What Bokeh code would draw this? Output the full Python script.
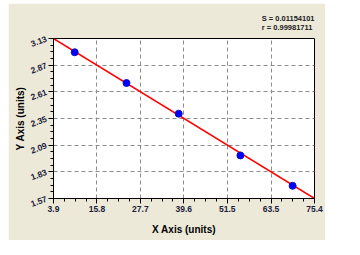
from bokeh.plotting import figure
from bokeh.models import FixedTicker, PrintfTickFormatter, Spacer, Range1d
from bokeh.layouts import column, row
from bokeh.embed import file_html
from bokeh.resources import INLINE

# data
pts_x = [9.7, 23.9, 38.2, 55.1, 69.4]
pts_y = [2.996, 2.696, 2.397, 1.990, 1.694]
fit_x = [3.9, 75.4]
fit_y = [3.13, 1.57]
x_ticks = [3.9, 15.8, 27.7, 39.6, 51.5, 63.5, 75.4]
y_ticks = [1.57, 1.83, 2.09, 2.35, 2.61, 2.87, 3.13]
stat_s = "S = 0.01154101"
stat_r = "r = 0.99981711"

def minors(ticks, n=4):
    out = []
    for a, b in zip(ticks[:-1], ticks[1:]):
        for k in range(1, n):
            out.append(a + (b - a) * k / n)
    return out

BG = "#ECE9D8"
FONT = "Liberation Sans"
TXT = "#1c1c3c"

p = figure(width=317, height=237, output_backend="svg", toolbar_location=None,
           x_range=Range1d(x_ticks[0], x_ticks[-1]), y_range=Range1d(y_ticks[0], y_ticks[-1]),
           min_border_left=45, min_border_right=11, min_border_top=35, min_border_bottom=42)
p.border_fill_color = BG
p.background_fill_color = "white"
p.outline_line_color = "black"
p.outline_line_width = 1

p.xaxis.ticker = FixedTicker(ticks=x_ticks, minor_ticks=minors(x_ticks))
p.yaxis.ticker = FixedTicker(ticks=y_ticks, minor_ticks=minors(y_ticks))
p.xaxis.formatter = PrintfTickFormatter(format="%.1f")
p.yaxis.formatter = PrintfTickFormatter(format="%.2f")
for ax in (p.xaxis, p.yaxis):
    ax.major_tick_in = 0
    ax.major_tick_out = 5
    ax.minor_tick_in = 0
    ax.minor_tick_out = 3
    ax.axis_line_color = "black"
    ax.major_tick_line_color = "black"
    ax.minor_tick_line_color = "black"
    ax.major_label_text_font = FONT
    ax.major_label_text_font_style = "bold"
    ax.major_label_text_font_size = "8.5px"
    ax.major_label_text_color = TXT
    ax.axis_label_text_font = FONT
    ax.axis_label_text_font_style = "bold"
    ax.axis_label_text_font_size = "10px"
    ax.axis_label_text_color = "black"
    ax.major_label_standoff = 2
p.yaxis.major_label_orientation = 0.35
p.xaxis.axis_label = "X Axis (units)"
p.yaxis.axis_label = "Y Axis (units)"
p.xaxis.axis_label_standoff = 9
p.yaxis.axis_label_standoff = 0

p.xgrid.ticker = FixedTicker(ticks=x_ticks)
p.ygrid.ticker = FixedTicker(ticks=y_ticks)
for g in (p.xgrid, p.ygrid):
    g.grid_line_color = "#8c8c8c"
    g.grid_line_dash = "4 3"
    g.grid_line_width = 1

p.line(fit_x, fit_y, line_color="#ff0000", line_width=1.5)
p.scatter(pts_x, pts_y, size=7, fill_color="#0000ff", line_color="#1010c0")

p.title.text = stat_s + "\n" + stat_r
p.title.align = "right"
p.title.text_font = FONT
p.title.text_font_size = "7.5px"
p.title.text_font_style = "bold"
p.title.text_color = "#202020"
p.title.standoff = 14

layout = column(Spacer(height=3), row(Spacer(width=8), p))
open("out.html", "w").write(file_html(layout, INLINE))
